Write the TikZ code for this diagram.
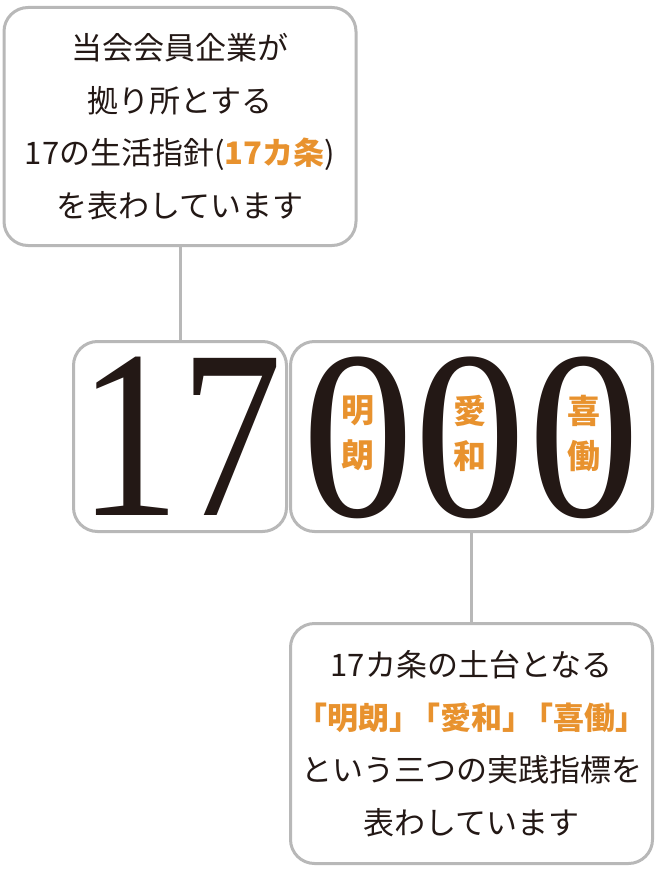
\documentclass[tikz,border=0pt]{standalone}
\usepackage{fontspec}
\setmainfont{Liberation Serif}
\newfontfamily\jpfont{Noto Sans CJK JP}
\usetikzlibrary{positioning}
\definecolor{framegray}{RGB}{184,184,184}
\definecolor{accent}{RGB}{232,146,46}
\definecolor{ink}{RGB}{35,24,21}

\begin{document}
\begin{tikzpicture}[
        x=1pt, y=-1pt,
        notebox/.style={rectangle, rounded corners=24pt, draw=framegray, line width=3pt, fill=white, align=center, text=ink, font=\jpfont\fontsize{31}{52.5}\selectfont},
        digitbox/.style={rectangle, rounded corners=24pt, draw=framegray, line width=3pt, fill=white, minimum height=190pt},
        bigdigit/.style={font=\fontsize{240}{240}\selectfont, text=ink, inner sep=0pt},
        virtue/.style={font=\jpfont\bfseries\fontsize{33}{45}\selectfont, text=accent, align=center, inner sep=0pt},
        link/.style={draw=framegray, line width=3pt},
    ]
        \useasboundingbox (0,0) rectangle (660,872);

        \node[digitbox, minimum width=213pt] (seventeen) at (180,436.5) {};
        \node[digitbox, minimum width=362pt, right=1pt of seventeen] (zeros) {};

        \node[notebox, minimum width=352pt, minimum height=238pt, above=93pt of seventeen] (top) {当会会員企業が\\拠り所とする\\17の生活指針({\color{accent}\bfseries 17カ条})\\を表わしています};

        \node[notebox, minimum width=362pt, minimum height=240pt, below=89pt of zeros] (bottom) {17カ条の土台となる\\{\color{accent}\bfseries 「明朗」\kern-11pt「愛和」\kern-11pt「喜働」}\\という三つの実践指標を\\表わしています};

        % big figures
        \node[bigdigit, xscale=0.85] (num17) at (seventeen.center) {17};
        \node[bigdigit, xscale=0.93] (zeroA) at (358,438) {0};
        \node[bigdigit, xscale=0.93] (zeroB) at (470,438) {0};
        \node[bigdigit, xscale=0.93] (zeroC) at (584,438) {0};

        \node[virtue] (meiro) at (358,433) {明\\朗};
        \node[virtue] (aiwa) at (470,433) {愛\\和};
        \node[virtue] (kido) at (584,433) {喜\\働};

        \draw[link] (top.south) -- (seventeen.north);
        \draw[link] (zeros.south) -- (bottom.north);
    \end{tikzpicture}
\end{document}
